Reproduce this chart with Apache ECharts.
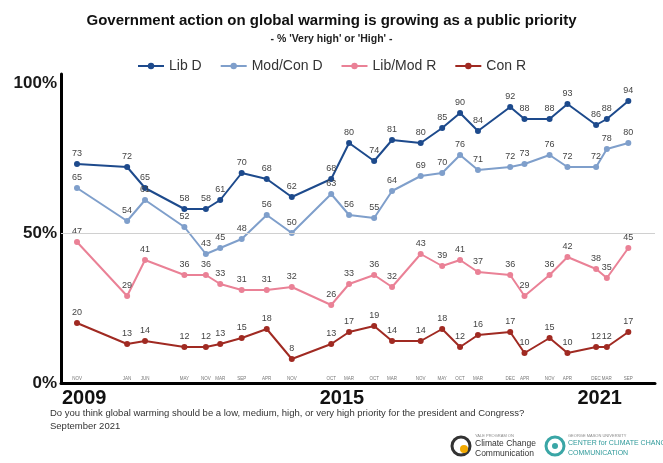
<!DOCTYPE html>
<html>
<head>
<meta charset="utf-8">
<script src="https://cdn.jsdelivr.net/npm/echarts@6/dist/echarts.min.js"></script>
<style>html,body{margin:0;padding:0;background:#fff}#c{width:663px;height:463px}</style>
</head>
<body>
<div id="c"></div>
<script>
// Survey dates (year-month)
const dates = ['2008-11','2010-01','2010-06','2011-05','2011-11','2012-03','2012-09','2013-04','2013-11','2014-10','2015-03','2015-10','2016-03','2016-11','2017-05','2017-10','2018-03','2018-12','2019-04','2019-11','2020-04','2020-12','2021-03','2021-09'];
const monthAbbr = ['JAN','FEB','MAR','APR','MAY','JUN','JUL','AUG','SEP','OCT','NOV','DEC'];
const libD    = [73,72,65,58,58,61,70,68,62,68,80,74,81,80,85,90,84,92,88,88,93,86,88,94];
const modConD = [65,54,61,52,43,45,48,56,50,63,56,55,64,69,70,76,71,72,73,76,72,72,78,80];
const libModR = [47,29,41,36,36,33,31,31,32,26,33,36,32,43,39,41,37,36,29,36,42,38,35,45];
const conR    = [20,13,14,12,12,13,15,18,8,13,17,19,14,14,18,12,16,17,10,15,10,12,12,17];
const yearLabels = ['2009','2015','2021'];
const yTicks = [0,50,100];

const FONT = '"Liberation Sans", Arial, sans-serif';
// month index since Jan 2008
const toIdx = s => { const [y,m] = s.split('-').map(Number); return (y-2008)*12 + (m-1); };
const xs = dates.map(toIdx);
const labelMap = {};
dates.forEach(d => { labelMap[toIdx(d)] = monthAbbr[Number(d.split('-')[1])-1]; });
const yearIdx = yearLabels.map(y => toIdx(y + '-01'));
const yearMap = {}; yearLabels.forEach((y,i)=>{ yearMap[yearIdx[i]] = y; });

const XMIN = 5.53, XMAX = 171.45;

function mk(name, vals, color, extra) {
  return Object.assign({
    name, type: 'line',
    data: vals.map((v,i)=>[xs[i], v]),
    lineStyle: {width: 2, color},
    itemStyle: {color},
    symbol: 'circle', symbolSize: 6,
    label: {show: true, position: 'top', distance: 3, fontSize: 9, color: '#444', fontFamily: FONT},
    emphasis: {disabled: true},
    z: 3
  }, extra || {});
}

const chart = echarts.init(document.getElementById('c'), null, {renderer: 'canvas'});
chart.setOption({
  animation: false,
  backgroundColor: '#fff',
  title: [{
    text: 'Government action on global warming is growing as a public priority',
    left: 'center', top: 8,
    textStyle: {fontSize: 15, fontWeight: 'bold', color: '#111', fontFamily: FONT}
  },{
    text: "- % 'Very high' or 'High' -",
    left: 'center', top: 29,
    textStyle: {fontSize: 10.5, fontWeight: 'bold', color: '#222', fontFamily: FONT}
  }],
  legend: {
    top: 54, left: 'center',
    itemWidth: 26, itemHeight: 8, itemGap: 18,
    textStyle: {fontSize: 14, color: '#333', fontFamily: FONT},
    data: ['Lib D','Mod/Con D','Lib/Mod R','Con R']
  },
  grid: {left: 61, right: 8, top: 74, bottom: 80, containLabel: false},
  xAxis: [{
    type: 'value', min: XMIN, max: XMAX,
    axisLine: {show: true, onZero: false, lineStyle: {color: '#000', width: 3}},
    axisTick: {show: false}, splitLine: {show: false},
    axisLabel: {
      inside: true, margin: 2, customValues: xs,
      formatter: v => labelMap[Math.round(v)] || '',
      fontSize: 4.5, color: '#777', fontFamily: FONT
    }
  },{
    type: 'value', min: XMIN, max: XMAX, position: 'bottom',
    axisLine: {show: false}, axisTick: {show: false}, splitLine: {show: false},
    axisLabel: {
      margin: 5, customValues: yearIdx,
      formatter: v => yearMap[Math.round(v)] || '',
      fontSize: 20, fontWeight: 'bold', color: '#111', fontFamily: FONT
    }
  }],
  yAxis: {
    type: 'value', min: 0, max: 103,
    axisLine: {show: true, lineStyle: {color: '#000', width: 3}},
    axisTick: {show: false}, splitLine: {show: false},
    axisLabel: {
      customValues: yTicks, margin: 4,
      formatter: v => v + '%',
      fontSize: 17, fontWeight: 'bold', color: '#1a1a1a', fontFamily: FONT
    }
  },
  series: [
    mk('Lib D', libD, '#1d4a8c', {
      markLine: {silent: true, symbol: 'none', label: {show: false},
        lineStyle: {color: '#d0d0d0', width: 1, type: 'solid'},
        data: [{yAxis: 50}]}
    }),
    mk('Mod/Con D', modConD, '#7f9fcb'),
    mk('Lib/Mod R', libModR, '#ea8196'),
    mk('Con R', conR, '#a02a22')
  ],
  graphic: [
    {type: 'text', left: 50, top: 408, style: {text: 'Do you think global warming should be a low, medium, high, or very high priority for the president and Congress?', fontSize: 9.5, fill: '#333', fontFamily: FONT}},
    {type: 'text', left: 50, top: 421, style: {text: 'September 2021', fontSize: 9.5, fill: '#333', fontFamily: FONT}},
    // Yale logo approximation
    {type: 'circle', shape: {cx: 461, cy: 446, r: 9}, style: {fill: 'none', stroke: '#333', lineWidth: 3}},
    {type: 'circle', shape: {cx: 464, cy: 449, r: 4}, style: {fill: '#f2a900'}},
    {type: 'text', left: 475, top: 434, style: {text: 'YALE PROGRAM ON', fontSize: 4, fill: '#888', fontFamily: FONT}},
    {type: 'text', left: 475, top: 439, style: {text: 'Climate Change', fontSize: 8.5, fill: '#333', fontFamily: FONT}},
    {type: 'text', left: 475, top: 449, style: {text: 'Communication', fontSize: 8.5, fill: '#333', fontFamily: FONT}},
    // GMU logo approximation
    {type: 'circle', shape: {cx: 555, cy: 446, r: 9}, style: {fill: 'none', stroke: '#3aa6a6', lineWidth: 3}},
    {type: 'circle', shape: {cx: 555, cy: 446, r: 3}, style: {fill: '#3aa6a6'}},
    {type: 'text', left: 568, top: 434, style: {text: 'GEORGE MASON UNIVERSITY', fontSize: 4, fill: '#888', fontFamily: FONT}},
    {type: 'text', left: 568, top: 440, style: {text: 'CENTER for CLIMATE CHANGE', fontSize: 7, fill: '#2f9a9a', fontFamily: FONT}},
    {type: 'text', left: 568, top: 450, style: {text: 'COMMUNICATION', fontSize: 7, fill: '#2f9a9a', fontFamily: FONT}}
  ]
});
</script>
</body>
</html>
